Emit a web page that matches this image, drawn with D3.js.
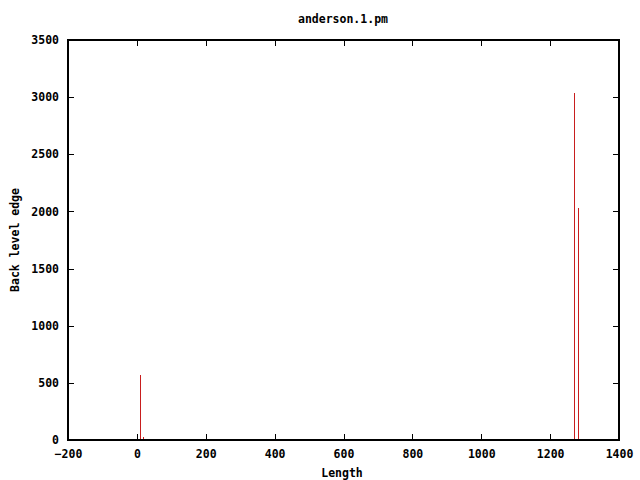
<!DOCTYPE html>
<html>
<head>
<meta charset="utf-8">
<script src="https://cdn.jsdelivr.net/npm/d3@7"></script>
<style>
  body { margin: 0; background: #fff; }
  text { font-family: "DejaVu Sans Mono", monospace; font-weight: bold; font-size: 11.5px; fill: #000; }
</style>
</head>
<body>
<div id="chart"></div>
<script>
// impulse positions and heights
const lengths = [9, 18, 19, 1270, 1280, 1281];
const edges = [570, 22, 22, 3040, 2030, 2030];
const xTicks = [-200, 0, 200, 400, 600, 800, 1000, 1200, 1400];
const yTicks = [0, 500, 1000, 1500, 2000, 2500, 3000, 3500];

const width = 640, height = 480;
const margin = { top: 40, right: 21, bottom: 40, left: 68 };

const svg = d3.select('#chart')
  .append('svg')
  .attr('width', width)
  .attr('height', height);

const x = d3.scaleLinear().domain([-200, 1400]).range([margin.left, width - margin.right]);
const y = d3.scaleLinear().domain([0, 3500]).range([height - margin.bottom, margin.top]);

const data = lengths.map((d, i) => ({ x: d, y: edges[i] }));

// impulses
svg.append('g')
  .selectAll('rect')
  .data(data)
  .enter()
  .append('rect')
  .attr('x', (d) => Math.round(x(d.x)))
  .attr('width', 1)
  .attr('y', (d) => Math.round(y(d.y)))
  .attr('height', (d) => y(0) - Math.round(y(d.y)))
  .attr('fill', '#c81e1e');

const tickLen = 6;
const fmt = d3.format('d');

// axes: labels only, tick marks drawn below
svg.append('g')
  .attr('transform', `translate(0,${height - margin.bottom})`)
  .call(d3.axisBottom(x).tickValues(xTicks).tickFormat(fmt).tickSize(0).tickPadding(10))
  .call((g) => g.select('.domain').remove());

svg.append('g')
  .attr('transform', `translate(${margin.left},0)`)
  .call(d3.axisLeft(y).tickValues(yTicks).tickFormat(fmt).tickSize(0).tickPadding(9))
  .call((g) => g.select('.domain').remove());

svg.selectAll('.tick text').style('font-family', '"DejaVu Sans Mono", monospace').style('font-size', '11.5px').style('font-weight', 'bold');

// inward tick marks on all four sides
const ticks = svg.append('g').attr('fill', '#000');
const y0 = y(0), y1 = y(3500), xa = x(-200), xb = x(1400);

ticks.selectAll('rect.xb').data(xTicks).enter().append('rect').attr('class', 'xb')
  .attr('x', (d) => Math.round(x(d))).attr('width', 1)
  .attr('y', y0 - tickLen).attr('height', tickLen);
ticks.selectAll('rect.xt').data(xTicks).enter().append('rect').attr('class', 'xt')
  .attr('x', (d) => Math.round(x(d))).attr('width', 1)
  .attr('y', y1).attr('height', tickLen);
ticks.selectAll('rect.yl').data(yTicks).enter().append('rect').attr('class', 'yl')
  .attr('y', (d) => Math.round(y(d))).attr('height', 1)
  .attr('x', xa).attr('width', tickLen);
ticks.selectAll('rect.yr').data(yTicks).enter().append('rect').attr('class', 'yr')
  .attr('y', (d) => Math.round(y(d))).attr('height', 1)
  .attr('x', xb - tickLen).attr('width', tickLen);

// frame
svg.append('rect')
  .attr('x', margin.left)
  .attr('y', margin.top)
  .attr('width', width - margin.left - margin.right)
  .attr('height', height - margin.top - margin.bottom)
  .attr('fill', 'none')
  .attr('stroke', '#000')
  .attr('stroke-width', 1.5)
  .attr('shape-rendering', 'crispEdges');

svg.append('text')
  .attr('x', 343)
  .attr('y', 23)
  .attr('text-anchor', 'middle')
  .text('anderson.1.pm');

svg.append('text')
  .attr('x', 342)
  .attr('y', 477)
  .attr('text-anchor', 'middle')
  .text('Length');

svg.append('text')
  .attr('transform', 'translate(19,240) rotate(-90)')
  .attr('text-anchor', 'middle')
  .text('Back level edge');
</script>
</body>
</html>
